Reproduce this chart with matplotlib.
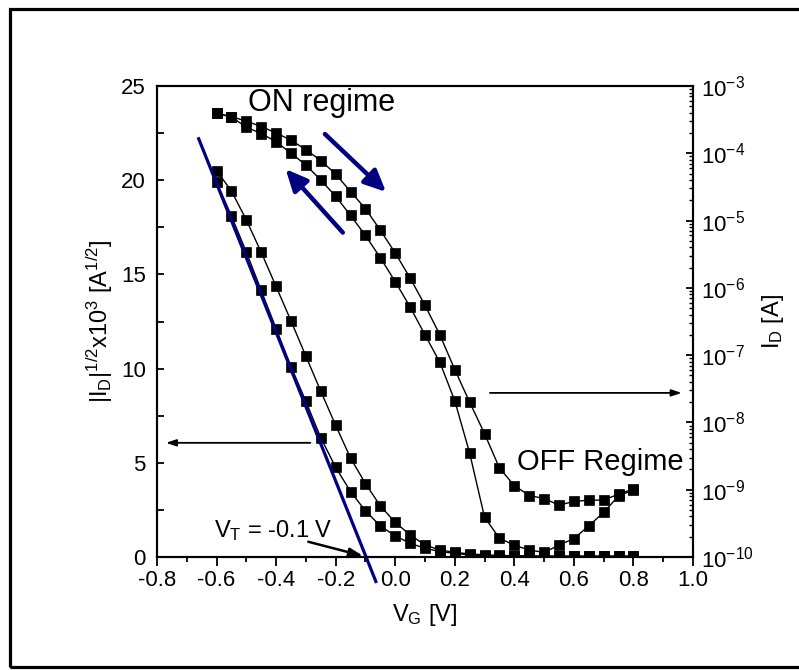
import matplotlib
matplotlib.use("Agg")
import matplotlib.pyplot as plt
from matplotlib.patches import Rectangle
from matplotlib.ticker import FormatStrFormatter, MultipleLocator, LogLocator, NullFormatter

plt.rcParams['font.family'] = ['Liberation Sans', 'DejaVu Sans']
plt.rcParams['mathtext.fontset'] = 'custom'
plt.rcParams['mathtext.rm'] = 'Liberation Sans'
plt.rcParams['mathtext.it'] = 'Liberation Sans'
plt.rcParams['mathtext.default'] = 'regular'
plt.rcParams['axes.unicode_minus'] = False

# gate voltage sweep [V]
vg = [-0.60, -0.55, -0.50, -0.45, -0.40, -0.35, -0.30, -0.25, -0.20, -0.15,
      -0.10, -0.05, 0.00, 0.05, 0.10, 0.15, 0.20, 0.25, 0.30, 0.35,
      0.40, 0.45, 0.50, 0.55, 0.60, 0.65, 0.70, 0.75, 0.80]

# drain current [A], log axis (two sweep directions)
id_fwd = [3.95e-4, 3.5e-4, 3.0e-4, 2.5e-4, 2.0e-4, 1.57e-4, 1.13e-4, 7.8e-5, 4.9e-5, 2.7e-5,
          1.5e-5, 7.2e-6, 3.3e-6, 1.4e-6, 5.5e-7, 2.0e-7, 6.1e-8, 2.0e-8, 6.8e-9, 2.1e-9,
          1.15e-9, 8.2e-10, 7.4e-10, 5.9e-10, 6.7e-10, 7.0e-10, 7.0e-10, 8.6e-10, 1.02e-9]
id_rev = [3.95e-4, 3.45e-4, 2.45e-4, 1.96e-4, 1.49e-4, 1.0e-4, 6.7e-5, 4.0e-5, 2.3e-5, 1.19e-5,
          6.0e-6, 2.8e-6, 1.24e-6, 5.2e-7, 2.0e-7, 7.8e-8, 2.1e-8, 3.5e-9, 3.9e-10, 1.9e-10,
          1.5e-10, 1.27e-10, 1.17e-10, 1.5e-10, 1.88e-10, 2.9e-10, 4.6e-10, 8.1e-10, 9.9e-10]

# |ID|^1/2 x 1e3 [A^1/2], linear axis
sq_fwd = [20.5, 19.43, 17.89, 16.17, 14.36, 12.53, 10.66, 8.80, 6.99, 5.25,
          3.90, 2.71, 1.84, 1.17, 0.64, 0.37, 0.25, 0.16, 0.12, 0.08,
          0.07, 0.06, 0.05, 0.05, 0.05, 0.05, 0.05, 0.05, 0.05]
sq_rev = [19.91, 18.10, 16.19, 14.15, 12.12, 10.11, 8.26, 6.33, 4.76, 3.47,
          2.45, 1.65, 1.12, 0.73, 0.46, 0.29, 0.19, 0.11, 0.05, 0.04,
          0.03, 0.03, 0.03, 0.03, 0.03, 0.03, 0.03, 0.03, 0.03]

# linear fit giving the threshold voltage
fit_v = [-0.66, -0.065]
fit_sq = [22.2, -1.3]
vt = -0.1

W, H = 799, 670
fig = plt.figure(figsize=(W / 100, H / 100), dpi=100)
ax = fig.add_axes([157 / W, 1 - 557 / H, 536 / W, 471 / H])
ax2 = ax.twinx()

fig.patches.append(Rectangle((9.5 / W, 3 / H), 1.2, 658 / H, transform=fig.transFigure,
                             fill=False, edgecolor='black', linewidth=2.3, clip_on=False))

mk = dict(marker='s', markersize=7, color='black', linewidth=1.0,
          markeredgecolor='black', markeredgewidth=0.5)
ax.plot(vg, sq_fwd, **mk)
ax.plot(vg, sq_rev, **mk)
ax.plot(fit_v, fit_sq, color='#000080', linewidth=2.3, clip_on=False, zorder=5)

ax2.plot(vg, id_fwd, **mk)
ax2.plot(vg, id_rev, **mk)

ax.set_xlim(-0.8, 1.0)
ax.set_ylim(0, 25)
ax2.set_yscale('log')
ax2.set_ylim(1e-10, 1e-3)

ax.xaxis.set_major_locator(MultipleLocator(0.2))
ax.xaxis.set_minor_locator(MultipleLocator(0.1))
ax.xaxis.set_major_formatter(FormatStrFormatter('%.1f'))
ax.yaxis.set_major_locator(MultipleLocator(5))
ax.yaxis.set_minor_locator(MultipleLocator(2.5))
ax2.yaxis.set_major_locator(LogLocator(base=10, numticks=20))
ax2.yaxis.set_minor_locator(LogLocator(base=10, subs=range(2, 10), numticks=20))
ax2.yaxis.set_minor_formatter(NullFormatter())

for a in (ax, ax2):
    for s in a.spines.values():
        s.set_linewidth(1.5)
ax.tick_params(axis='x', which='major', direction='out', length=6.5, width=1.3,
               labelsize=16, pad=3)
ax.tick_params(axis='x', which='minor', direction='out', length=3.5, width=1.3)
ax.tick_params(axis='y', which='both', direction='in', length=5, width=1.3,
               labelsize=16, pad=8)
ax.tick_params(top=False, right=False)
ax2.tick_params(axis='y', which='major', direction='in', length=5, width=1.3,
                labelsize=16, pad=6)
ax2.tick_params(axis='y', which='minor', direction='in', length=3, width=1.0)

ax.set_xlabel('V$_G$ [V]', fontsize=17, labelpad=8)
ax.set_ylabel('$|I_D|^{1/2}$x10$^3$ [A$^{1/2}$]', fontsize=17, labelpad=4)
ax2.set_ylabel('I$_D$ [A]', fontsize=17, labelpad=4)

ax.text(-0.495, 24.9, 'ON regime', fontsize=22, va='top', ha='left', zorder=6)
ax.text(0.97, 5.8, 'OFF Regime', fontsize=21, va='top', ha='right', zorder=6)
ax.text(-0.61, 0.75, 'V$_T$ = -0.1 V', fontsize=17, ha='left', va='bottom')

black = dict(arrowstyle='-|>,head_length=0.6,head_width=0.2', color='black', lw=1.3,
             shrinkA=0, shrinkB=0)
ax.annotate('', xy=(-0.77, 6.06), xytext=(-0.285, 6.06), arrowprops=black)
ax.annotate('', xy=(0.962, 8.71), xytext=(0.318, 8.71), arrowprops=black)
ax.annotate('', xy=(vt - 0.007, 0.05), xytext=(-0.292, 0.81),
            arrowprops=dict(arrowstyle='-|>,head_length=0.8,head_width=0.25', color='black',
                            lw=1.8, shrinkA=0, shrinkB=0))

blue = dict(arrowstyle='-|>,head_length=1.3,head_width=0.6', color='#000080', lw=3.2,
            shrinkA=0, shrinkB=0)
ax.annotate('', xy=(-0.031, 19.38), xytext=(-0.236, 22.45), arrowprops=blue, zorder=6)
ax.annotate('', xy=(-0.368, 20.59), xytext=(-0.176, 17.22), arrowprops=blue, zorder=6)

fig.savefig('out.png', dpi=100)
